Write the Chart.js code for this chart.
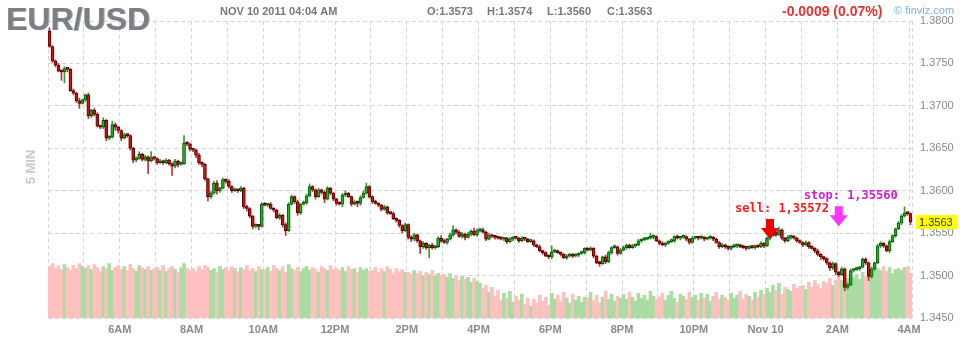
<!DOCTYPE html>
<html>
<head>
<meta charset="utf-8">
<script src="https://cdn.jsdelivr.net/npm/chart.js@4.4.0/dist/chart.umd.min.js"></script>
<style>
  html, body { margin: 0; padding: 0; background: #fff; }
  #c { display: block; }
</style>
</head>
<body>
<canvas id="c" width="960" height="339"></canvas>
<script>
// ---- header texts ----
const symbol = "EUR/USD";
const stamp = "NOV 10 2011 04:04 AM";
const ohlcText = ["O:1.3573", "H:1.3574", "L:1.3560", "C:1.3563"];
const changeText = "-0.0009 (0.07%)";
const brand = "\u00a9 finviz.com";
const timeframe = "5 MIN";

// ---- 5 minute bars, 4:00 AM Nov 9 -> 4:00 AM Nov 10 ----
const firstOpen = 1.3788;
const closes = [
  1.3770,1.3753,1.3748,1.3741,1.3740,1.3744,1.3743,1.3718,1.3715,1.3706,1.3703,1.3707,
  1.3713,1.3688,1.3695,1.3690,1.3676,1.3675,1.3683,1.3662,1.3663,1.3678,1.3675,1.3671,
  1.3662,1.3666,1.3665,1.3650,1.3636,1.3638,1.3643,1.3637,1.3640,1.3635,1.3639,1.3638,
  1.3633,1.3635,1.3633,1.3636,1.3632,1.3629,1.3635,1.3631,1.3632,1.3656,1.3655,1.3649,
  1.3648,1.3642,1.3633,1.3631,1.3614,1.3593,1.3597,1.3609,1.3600,1.3603,1.3613,1.3611,
  1.3605,1.3600,1.3601,1.3600,1.3603,1.3581,1.3579,1.3570,1.3558,1.3559,1.3558,1.3584,
  1.3583,1.3584,1.3579,1.3577,1.3568,1.3571,1.3560,1.3553,1.3584,1.3593,1.3587,1.3574,
  1.3584,1.3586,1.3594,1.3605,1.3601,1.3593,1.3601,1.3598,1.3590,1.3603,1.3597,1.3590,
  1.3585,1.3584,1.3595,1.3597,1.3593,1.3584,1.3587,1.3585,1.3592,1.3597,1.3605,1.3593,
  1.3587,1.3585,1.3583,1.3578,1.3581,1.3574,1.3573,1.3567,1.3565,1.3559,1.3553,1.3560,
  1.3545,1.3543,1.3548,1.3541,1.3534,1.3538,1.3533,1.3536,1.3533,1.3534,1.3544,1.3541,
  1.3539,1.3543,1.3548,1.3554,1.3551,1.3546,1.3549,1.3545,1.3549,1.3552,1.3548,1.3553,
  1.3554,1.3551,1.3543,1.3547,1.3546,1.3545,1.3544,1.3543,1.3544,1.3540,1.3543,1.3545,
  1.3544,1.3541,1.3544,1.3543,1.3540,1.3541,1.3536,1.3534,1.3529,1.3527,1.3523,1.3522,
  1.3528,1.3529,1.3527,1.3525,1.3521,1.3523,1.3525,1.3523,1.3524,1.3526,1.3527,1.3532,
  1.3530,1.3532,1.3523,1.3515,1.3514,1.3522,1.3516,1.3527,1.3533,1.3534,1.3526,1.3530,
  1.3533,1.3536,1.3533,1.3535,1.3536,1.3541,1.3542,1.3543,1.3544,1.3545,1.3546,1.3541,
  1.3538,1.3536,1.3538,1.3540,1.3541,1.3546,1.3544,1.3545,1.3546,1.3543,1.3539,1.3544,
  1.3545,1.3544,1.3545,1.3543,1.3544,1.3545,1.3543,1.3539,1.3534,1.3536,1.3534,1.3532,
  1.3534,1.3535,1.3536,1.3534,1.3533,1.3532,1.3534,1.3533,1.3535,1.3534,1.3538,1.3535,
  1.3544,1.3547,1.3551,1.3548,1.3554,1.3544,1.3541,1.3545,1.3546,1.3544,1.3541,1.3539,
  1.3536,1.3539,1.3534,1.3532,1.3529,1.3525,1.3522,1.3520,1.3515,1.3509,1.3514,1.3504,
  1.3501,1.3508,1.3486,1.3489,1.3506,1.3507,1.3508,1.3510,1.3519,1.3515,1.3499,1.3508,
  1.3515,1.3535,1.3538,1.3535,1.3529,1.3540,1.3547,1.3555,1.3562,1.3570,1.3574,1.3573,
  1.3563
];
// wick length above / below the body, in pips
const upperWick = [
  4,1,1,2,1,2,1,1,2,1,3,1,  1,2,1,2,2,1,3,1,2,4,2,1,  1,2,1,1,1,2,3,1,2,1,7,1,
  1,2,1,2,1,1,2,1,2,9,2,1,  1,1,2,1,1,1,2,2,3,1,2,1,  2,1,2,1,2,1,2,1,1,2,1,2,
  2,1,2,1,1,2,1,2,2,2,1,2,  1,2,2,3,1,1,2,1,2,2,1,1,  1,2,2,3,1,1,2,1,2,3,4,1,
  1,2,1,1,2,1,1,2,1,1,1,2,  1,2,2,1,1,2,1,1,2,1,2,3,  2,1,2,5,1,2,2,1,2,2,4,2,
  1,2,1,3,1,1,1,2,1,1,2,1,  1,1,2,1,1,2,1,1,2,1,1,1,  7,2,1,1,1,2,1,1,2,1,2,1,
  1,2,1,1,2,1,2,2,1,2,1,2,  2,1,1,2,1,2,1,2,1,5,2,1,  1,2,1,1,2,1,2,1,2,1,1,2,
  1,1,2,1,1,2,1,1,1,2,1,1,  1,2,1,1,2,1,1,2,1,1,2,1,  2,2,3,1,3,1,1,2,1,1,1,1,
  1,2,1,1,1,2,1,1,1,1,2,1,  1,2,1,2,2,1,2,1,2,2,1,2,  1,2,2,1,1,2,1,1,2,2,7,1,
  1
];
const lowerWick = [
  1,2,2,1,10,13,3,1,2,2,6,1,  2,3,2,2,1,2,2,3,2,1,4,3,  3,1,2,2,3,2,1,2,2,15,1,2,
  2,1,2,1,2,11,2,3,1,1,2,2,  2,3,2,3,2,5,2,1,4,2,1,2,  2,2,1,2,1,2,3,2,3,2,4,1,
  1,2,1,2,1,2,3,6,1,1,2,3,  2,1,2,1,2,3,1,2,4,1,2,2,  2,1,3,2,1,2,1,4,2,1,1,2,
  2,1,2,2,1,2,1,1,2,2,3,1,  2,3,2,2,8,2,2,12,2,2,1,2,  1,2,1,2,2,1,2,3,1,2,1,2,
  2,1,2,1,1,2,1,1,2,2,1,2,  1,2,1,2,1,1,2,1,1,2,1,2,  2,1,1,2,1,2,1,2,1,2,1,2,
  1,1,2,1,3,1,2,1,2,1,2,1,  1,2,1,1,2,1,2,1,1,1,2,1,  2,1,2,1,1,2,1,2,1,2,2,1,
  1,2,1,2,1,1,2,1,2,1,2,2,  2,1,2,1,1,2,1,1,2,1,1,2,  1,2,1,2,1,2,2,1,2,1,2,1,
  2,1,2,1,2,2,3,2,2,3,2,3,  2,1,4,2,1,2,1,2,1,2,5,2,  2,1,2,2,1,2,1,2,1,2,1,2,
  3
];
const volumes = [
  52,55,50,53,49,54,51,48,53,50,55,52,  50,53,49,54,51,47,52,50,55,48,51,53,
  49,52,48,54,50,47,53,51,49,52,48,50,  51,48,53,47,50,52,49,46,51,55,50,48,
  50,47,52,49,53,51,48,50,46,52,49,51,  48,52,50,47,51,49,53,48,50,47,52,49,
  49,51,47,53,50,48,52,46,54,50,48,51,  47,50,52,48,51,49,46,52,50,48,53,49,
  50,48,51,47,52,49,50,46,51,48,50,47,  48,51,46,50,47,52,49,45,50,47,49,46,
  46,44,48,45,47,43,46,44,48,42,45,43,  44,41,45,40,43,38,42,39,41,36,40,37,
  35,30,33,26,31,22,28,18,25,20,27,16,  22,18,24,14,20,12,19,15,23,17,21,13,
  25,19,23,17,26,20,15,24,18,22,16,21,  20,26,18,23,15,21,27,19,24,17,22,20,
  24,19,26,21,17,25,20,23,18,27,22,19,  21,25,18,23,27,20,16,24,22,19,26,21,
  23,18,25,20,24,17,22,26,19,23,21,18,  25,20,23,27,19,24,22,18,26,21,28,24,
  30,26,33,28,35,24,31,29,27,34,30,32,  33,29,36,31,38,34,30,37,35,40,33,38,
  42,38,45,40,47,41,44,39,46,42,48,44,  55,50,48,52,47,51,45,49,50,48,51,52,
  45
];

// axis labels
const xLabels = ["6AM", "8AM", "10AM", "12PM", "2PM", "4PM", "6PM", "8PM", "10PM", "Nov 10", "2AM", "4AM"];
const yTicks = [1.3450, 1.3500, 1.3550, 1.3600, 1.3650, 1.3700, 1.3750, 1.3800];
const lastPrice = 1.3563;

// trade notes drawn on the chart
const sellNote = { text: "sell: 1,35572", bar: 241, tip: 1.3543, color: "#ff1a1a", arrow: "#ee0000" };
const stopNote = { text: "stop: 1,35560", bar: 264, tip: 1.3558, color: "#cc22cc", arrow: "#ff33ff" };

// ---- build OHLC ----
const opens = closes.map((c, i) => (i === 0 ? firstOpen : closes[i - 1]));
const isUp = closes.map((c, i) => c >= opens[i]);
const highs = closes.map((c, i) => Math.max(c, opens[i]) + upperWick[i] / 10000);
const lows = closes.map((c, i) => Math.min(c, opens[i]) - lowerWick[i] / 10000);

const hourTicks = [];
for (let h = 0; h <= 288; h += 12) hourTicks.push(h);
hourTicks.push(289);

const grey = "#8a8a8a";

const decor = {
  id: "decor",
  afterDraw(chart) {
    const ctx = chart.ctx;
    const xs = chart.scales.x, ys = chart.scales.y;
    ctx.save();
    ctx.textAlign = "left";
    ctx.textBaseline = "alphabetic";

    // title
    ctx.font = "bold 32px 'Liberation Sans', Arial, sans-serif";
    ctx.fillStyle = "#9ab4d8";
    ctx.fillText(symbol, 7, 30);
    ctx.fillStyle = "#7f7f7f";
    ctx.fillText(symbol, 6, 30);

    // header line
    ctx.font = "bold 11px 'Liberation Sans', Arial, sans-serif";
    ctx.fillStyle = "#777";
    ctx.fillText(stamp, 220, 15);
    const ox = [427, 487, 547, 607];
    ohlcText.forEach((t, i) => ctx.fillText(t, ox[i], 15));

    ctx.font = "bold 14px 'Liberation Sans', Arial, sans-serif";
    ctx.fillStyle = "#e03434";
    ctx.fillText(changeText, 782, 16);

    ctx.font = "11px 'Liberation Sans', Arial, sans-serif";
    ctx.fillStyle = "#7fb2e0";
    ctx.fillText(brand, 894, 14);

    // timeframe, vertical
    ctx.save();
    ctx.translate(35, 167);
    ctx.rotate(-Math.PI / 2);
    ctx.textAlign = "center";
    ctx.font = "bold 13px 'Liberation Sans', Arial, sans-serif";
    ctx.fillStyle = "#c8c8c8";
    ctx.fillText(timeframe, 0, 0);
    ctx.restore();

    // notes with arrows
    [sellNote, stopNote].forEach(n => {
      const x = xs.getPixelForValue(n.bar + 0.5);
      const tipY = ys.getPixelForValue(n.tip);
      ctx.fillStyle = n.arrow;
      ctx.beginPath();
      ctx.moveTo(x - 4, tipY - 20);
      ctx.lineTo(x + 4, tipY - 20);
      ctx.lineTo(x + 4, tipY - 11);
      ctx.lineTo(x + 9, tipY - 11);
      ctx.lineTo(x, tipY);
      ctx.lineTo(x - 9, tipY - 11);
      ctx.lineTo(x - 4, tipY - 11);
      ctx.closePath();
      ctx.fill();
      ctx.font = "bold 12px 'DejaVu Sans Mono', 'Liberation Mono', monospace";
      ctx.fillStyle = n.color;
      ctx.textAlign = "center";
      ctx.fillText(n.text, x + 12, tipY - 27);
    });

    // last price tag
    const py = ys.getPixelForValue(lastPrice);
    ctx.fillStyle = "#ffff00";
    ctx.fillRect(916, py - 7, 41, 14);
    ctx.font = "11px 'Liberation Sans', Arial, sans-serif";
    ctx.fillStyle = "#333";
    ctx.textAlign = "left";
    ctx.textBaseline = "middle";
    ctx.fillText(lastPrice.toFixed(4), 919, py + 0.5);
    ctx.restore();
  }
};

new Chart(document.getElementById("c"), {
  type: "bar",
  data: {
    datasets: [
      {
        label: "body",
        data: closes.map((c, i) => ({ x: i + 0.5, y: [opens[i], c] })),
        backgroundColor: isUp.map(u => (u ? "#1fb51f" : "#d41010")),
        borderColor: isUp.map(u => (u ? "#0b540b" : "#560000")),
        borderWidth: 1,
        borderSkipped: false,
        barThickness: 3,
        minBarLength: 2,
        grouped: false,
        yAxisID: "y",
        order: 0
      },
      {
        label: "wick",
        data: closes.map((c, i) => ({ x: i + 0.5, y: [lows[i], highs[i]] })),
        backgroundColor: isUp.map(u => (u ? "#3c9a3c" : "#a83c3c")),
        barThickness: 1,
        grouped: false,
        yAxisID: "y",
        order: 1
      },
      {
        label: "volume",
        data: volumes.map((v, i) => ({ x: i + 0.5, y: v })),
        backgroundColor: isUp.map(u => (u ? "#abdca4" : "#ffc0c0")),
        barThickness: 3,
        grouped: false,
        yAxisID: "yv",
        order: 2
      }
    ]
  },
  options: {
    responsive: false,
    animation: false,
    events: [],
    layout: { padding: { left: 48, top: 21, right: 0, bottom: 0 } },
    plugins: { legend: { display: false }, tooltip: { enabled: false } },
    scales: {
      x: {
        type: "linear",
        min: 0,
        max: 289,
        offset: false,
        afterBuildTicks: s => { s.ticks = hourTicks.map(v => ({ value: v })); },
        afterFit: s => { s.height = 21; },
        grid: { color: "#d6d6d6", drawTicks: false, offset: false },
        border: { display: false, dash: [4, 3] },
        ticks: {
          autoSkip: false,
          maxRotation: 0,
          padding: 5,
          color: grey,
          font: { family: "'Liberation Sans', Arial, sans-serif", size: 11, weight: "bold" },
          callback: v => (v > 0 && v % 24 === 0 ? xLabels[v / 24 - 1] : "")
        }
      },
      y: {
        position: "right",
        min: 1.345,
        max: 1.38,
        afterBuildTicks: s => { s.ticks = yTicks.map(v => ({ value: v })); },
        afterFit: s => { s.width = 48; },
        grid: { color: "#d6d6d6", drawTicks: false },
        border: { display: false, dash: [4, 3] },
        ticks: {
          padding: 8,
          color: grey,
          font: { family: "'Liberation Sans', Arial, sans-serif", size: 11 },
          callback: v => v.toFixed(4)
        }
      },
      yv: {
        display: false,
        min: 0,
        max: 300
      }
    }
  },
  plugins: [decor]
});
</script>
</body>
</html>
